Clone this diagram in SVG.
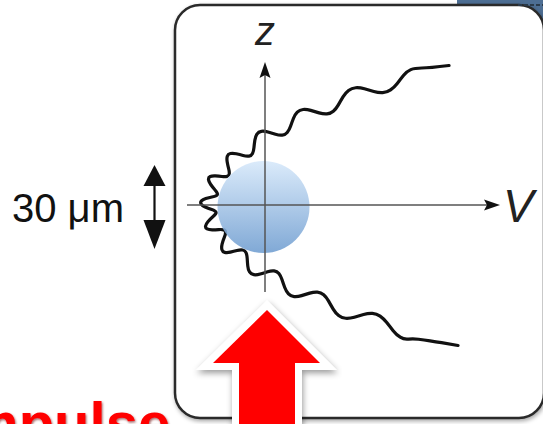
<svg xmlns="http://www.w3.org/2000/svg" width="543" height="424" viewBox="0 0 543 424">
<defs>
<style>
.ax{stroke:#555;stroke-width:1.5;fill:none}
.head{fill:#111}
.lbl{font-family:"Liberation Sans",Arial,sans-serif;font-style:italic;fill:#222}
</style>
<linearGradient id="ball" x1="0" y1="0" x2="0" y2="1">
<stop offset="0" stop-color="#d6e8fa"/>
<stop offset="1" stop-color="#6f9dd0"/>
</linearGradient>
<filter id="sh" x="-10%" y="-10%" width="120%" height="120%">
<feDropShadow dx="1" dy="2" stdDeviation="2" flood-color="#000" flood-opacity="0.35"/>
</filter>
<filter id="ash" x="-20%" y="-20%" width="140%" height="140%">
<feDropShadow dx="1" dy="3" stdDeviation="3" flood-color="#000" flood-opacity="0.4"/>
</filter>
<filter id="tsh" x="-5%" y="-20%" width="110%" height="140%">
<feDropShadow dx="1" dy="1.5" stdDeviation="0.8" flood-color="#600" flood-opacity="0.6"/>
</filter>
</defs>
<rect width="543" height="424" fill="#fff"/>
<g id="background">
<rect x="457" y="0" width="86" height="45" fill="#4d6e93"/>
</g>
<g id="frame">
<rect x="175" y="5" width="369" height="413" rx="25" ry="25" fill="#fff" stroke="#2a2a2a" stroke-width="2.5" filter="url(#sh)"/>
<line x1="518" y1="5" x2="543" y2="5" stroke="#2a3a4a" stroke-width="2" stroke-dasharray="4 2"/>
</g>
<g id="curve">
<path fill="none" stroke="#111" stroke-width="3.2" stroke-linejoin="round" stroke-linecap="round" d="M449,65.5 Q429,68 421.85,68 Q414.7,68 410.8,69.65 Q406.9,71.3 403.65,75.35 Q400.4,79.4 397.25,83.4 Q394.1,87.4 390.55,89.85 Q387,92.3 382.8,92.55 Q378.6,92.8 373.85,91.45 Q369.1,90.1 364.45,88.8 Q359.8,87.5 355.75,87.75 Q351.7,88 348.55,90.45 Q345.4,92.9 343,96.9 Q340.6,100.9 338.35,104.85 Q336.1,108.8 333.3,111.2 Q330.5,113.6 326.9,113.85 Q323.3,114.1 319.1,112.85 Q314.9,111.6 310.7,110.4 Q306.5,109.2 303.1,109.5 Q299.7,109.8 297.3,112.2 Q294.9,114.6 293.4,118.5 Q291.9,122.4 290.55,126.25 Q289.2,130.1 287.2,132.45 Q285.2,134.8 282.25,135.1 Q279.3,135.4 275.5,134.25 Q271.7,133.1 267.95,132 Q264.2,130.9 261.35,131.3 Q258.5,131.7 256.95,134.05 Q255.4,136.4 254.85,140.15 Q254.3,143.9 253.95,147.55 Q253.6,151.2 252.5,153.45 Q251.4,155.7 248.95,156.05 Q246.5,156.4 243.1,155.5 Q239.7,154.6 236.25,153.8 Q232.8,153 230.4,153.55 Q228,154.1 227.3,156.35 Q226.6,158.6 227.2,162 Q227.8,165.4 228.65,168.65 Q229.5,171.9 229.25,173.9 Q229,175.9 227.1,176.4 Q225.2,176.9 221.95,176.5 Q218.7,176.1 215.4,175.9 Q212.1,175.7 210.2,176.55 Q208.3,177.4 208.5,179.5 Q208.7,181.6 210.55,184.25 Q212.4,186.9 214.45,189.25 Q216.5,191.6 217.2,193.2 Q217.9,194.8 216.4,195.6 Q214.9,196.4 211.85,197 Q208.8,197.6 205.8,198.55 Q202.8,199.5 201.45,200.95 Q200.1,202.4 201.2,204.05 Q202.3,205.7 205.2,207.05 Q208.1,208.4 211,209.35 Q213.9,210.3 215.25,211.25 Q216.6,212.2 215.75,213.6 Q214.9,215 212.55,217.05 Q210.2,219.1 208.1,221.55 Q206,224 205.6,226 Q205.2,228 207.05,228.95 Q208.9,229.9 212.15,229.9 Q215.4,229.9 218.6,229.6 Q221.8,229.3 223.65,229.85 Q225.5,230.4 225.55,232.35 Q225.6,234.3 224.3,237.45 Q223,240.6 222.15,243.95 Q221.3,247.3 221.9,249.55 Q222.5,251.8 224.75,252.35 Q227,252.9 230.35,252.15 Q233.7,251.4 237.05,250.5 Q240.4,249.6 242.7,250 Q245,250.4 246,252.65 Q247,254.9 247.2,258.5 Q247.4,262.1 247.75,265.85 Q248.1,269.6 249.55,271.95 Q251,274.3 253.8,274.7 Q256.6,275.1 260.25,274 Q263.9,272.9 267.55,271.75 Q271.2,270.6 274.1,270.9 Q277,271.2 278.9,273.55 Q280.8,275.9 282.05,279.75 Q283.3,283.6 284.75,287.5 Q286.2,291.4 288.5,293.85 Q290.8,296.3 294.15,296.6 Q297.5,296.9 301.55,295.65 Q305.6,294.4 309.75,293.15 Q313.9,291.9 317.4,292.15 Q320.9,292.4 323.65,294.8 Q326.4,297.2 328.6,301.15 Q330.8,305.1 333.2,309.1 Q335.6,313.1 338.65,315.55 Q341.7,318 345.7,318.25 Q349.7,318.5 354.3,317.2 Q358.9,315.9 363.55,314.55 Q368.2,313.2 372.4,313.45 Q376.6,313.7 380.1,316.15 Q383.6,318.6 386.75,322.6 Q389.9,326.6 393.15,330.65 Q396.4,334.7 400.25,337.2 Q404.1,339.7 408.55,339.1 Q413,338.5 418.5,339.25 Q424,340 430,340.9 Q436,341.8 441.5,342.7 Q447,343.6 458,345.5"/>
</g>
<g id="particle">
<circle cx="263.5" cy="207" r="46" fill="url(#ball)" opacity="0.88"/>
</g>
<g id="axes">
<line class="ax" x1="265" y1="292" x2="265" y2="74"/>
<path class="head" d="M265,62 L270.5,78 L265,75 L259.5,78 Z"/>
<line class="ax" x1="187" y1="205" x2="488" y2="205"/>
<path class="head" d="M500,205 L484,199.5 L487,205 L484,210.5 Z"/>
<text class="lbl" x="265" y="45" font-size="40" text-anchor="middle">z</text>
<text class="lbl" x="503" y="222" font-size="46">V</text>
</g>
<g id="scale">
<text x="12" y="222" font-family="Liberation Sans,Arial,sans-serif" font-size="40" fill="#111">30 μm</text>
<line x1="154.5" y1="182" x2="154.5" y2="224" stroke="#111" stroke-width="2.2"/>
<path d="M154.5,165 L165.5,186 L143.5,186 Z" fill="#111"/>
<path d="M154.5,249 L165.5,220 L143.5,220 Z" fill="#111"/>
</g>
<g id="pulse-arrow">
<path d="M267,310 L320,363 L295,363 L295,440 L239,440 L239,363 L213,363 Z" fill="#ff0000" stroke="#fff" stroke-width="14" stroke-linejoin="miter" paint-order="stroke" filter="url(#ash)"/>
</g>
<g id="pulse-label">
<text x="-49" y="443" font-family="Liberation Sans,Arial,sans-serif" font-weight="bold" font-size="58" fill="#ff0000" filter="url(#tsh)">Impulse</text>
</g>
</svg>
